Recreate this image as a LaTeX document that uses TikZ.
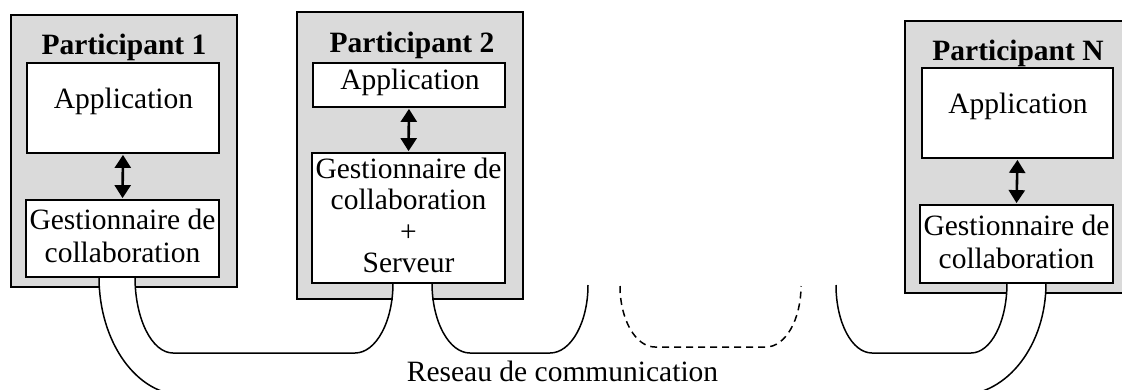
\documentclass[tikz,border=0pt]{standalone}
\usepackage{fontspec}
\setmainfont{Liberation Serif}
\usetikzlibrary{arrows.meta}
\definecolor{boxgray}{RGB}{218,218,218}
\newcommand\diafont{\fontsize{29.5}{32}\selectfont}
\begin{document}
\begin{tikzpicture}[x=1pt,y=-1pt,
  part/.style={rectangle,draw=black,fill=boxgray,line width=1.5pt,inner sep=0pt},
  blk/.style={rectangle,draw=black,fill=white,line width=1.8pt,inner sep=0pt},
  lbl/.style={anchor=base,inner sep=0pt,font=\diafont},
  ttl/.style={lbl,font=\diafont\bfseries},
  link/.style={line width=1.5pt},
  dashlink/.style={link,dash pattern=on 7pt off 5pt},
  dbl/.style={{Triangle[width=16pt,length=13pt]}-{Triangle[width=16pt,length=13pt]},line width=2.6pt,shorten <=1pt,shorten >=1pt},
  gap/.style={fill=white,draw=none}]
\useasboundingbox (0,0) rectangle (1122,389);
\clip (0,0) rectangle (1122,389);

% participant frames
\node[part,minimum width=226pt,minimum height=272pt] (p1) at (124,151) {};
\node[part,minimum width=226pt,minimum height=287pt] (p2) at (410,155.5) {};
\node[part,minimum width=230pt,minimum height=272pt] (pn) at (1020,157) {};

% inner blocks
\node[blk,minimum width=192pt,minimum height=90pt] (p1app) at (123,108) {};
\node[blk,minimum width=193pt,minimum height=77pt] (p1gest) at (122.5,238.5) {};
\node[blk,minimum width=192pt,minimum height=44pt] (p2app) at (409,85) {};
\node[blk,minimum width=193pt,minimum height=130pt] (p2gest) at (408.5,218) {};
\node[blk,minimum width=191pt,minimum height=90pt] (pnapp) at (1017.5,113) {};
\node[blk,minimum width=193pt,minimum height=78pt] (pngest) at (1016.5,244) {};

% openings where the network pipes leave each frame
\fill[gap] (99,278) rectangle (135,289);
\fill[gap] (393,284) rectangle (432,301);
\fill[gap] (1007,284) rectangle (1046,295);

% pipe end points
\coordinate (p1o) at (99,277);
\coordinate (p1i) at (135,277);
\coordinate (p2l) at (393,283);
\coordinate (p2r) at (432,283);
\coordinate (e2) at (588,285);
\coordinate (d1) at (620,286);
\coordinate (d2) at (801,286);
\coordinate (e3) at (836,285);
\coordinate (pnl) at (1007,283);
\coordinate (pnr) at (1046,283);

% network
\draw[link] (p1o) .. controls (99,342) and (136.6,395) .. (183,395)
  -- (960,395) .. controls (1007.5,395) and (1046,344.8) .. (pnr);
\draw[link] (p1i) .. controls (135,319) and (152,353) .. (173,353)
  -- (355,353) .. controls (376,353) and (393,321.6) .. (p2l);
\draw[link] (p2r) .. controls (432,321.6) and (449,353) .. (470,353)
  -- (550,353) .. controls (571,353) and (588,322.5) .. (e2);
\draw[dashlink] (d1) .. controls (620,319.7) and (635.7,347) .. (655,347)
  -- (766,347) .. controls (785.3,347) and (801,319.7) .. (d2);
\draw[link] (e3) .. controls (836,322.5) and (852,353) .. (872,353)
  -- (971,353) .. controls (991,353) and (1007,321.6) .. (pnl);

% application <-> manager
\draw[dbl] (p1app.south) -- (p1gest.north);
\draw[dbl] (p2app.south) -- (p2gest.north);
\draw[dbl] (pnapp.south) -- (pngest.north);

% texts
\node[ttl] (t1) at (124,54) {Participant 1};
\node[ttl] (t2) at (412,52) {Participant 2};
\node[ttl] (tn) at (1018,60) {Participant N};

\node[lbl] (a1) at (123.5,108) {Application};
\node[lbl] (a2) at (410,89) {Application};
\node[lbl] (an) at (1018,113) {Application};

\node[lbl] (g1a) at (122.5,229) {Gestionnaire de};
\node[lbl] (g1b) at (122.5,262) {collaboration};
\node[lbl] (g2a) at (408.5,178) {Gestionnaire de};
\node[lbl] (g2b) at (408.5,209.5) {collaboration};
\node[lbl] (g2c) at (408.5,241) {+};
\node[lbl] (g2d) at (408.5,272.5) {Serveur};
\node[lbl] (gna) at (1016.5,235) {Gestionnaire de};
\node[lbl] (gnb) at (1016.5,268) {collaboration};

\node[lbl] (net) at (562.5,381) {Reseau de communication};
\end{tikzpicture}
\end{document}
